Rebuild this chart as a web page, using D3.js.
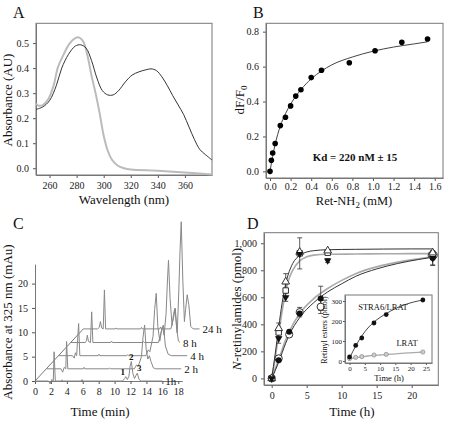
<!DOCTYPE html>
<html><head><meta charset="utf-8">
<script src="https://cdn.jsdelivr.net/npm/d3@7"></script>
<style>
body{margin:0;background:#fff}
text{font-family:"Liberation Serif","Times New Roman",serif}
</style>
</head><body>
<svg id="fig" width="449" height="421"></svg>
<script>
// ---------- Panel A data ----------
const aBlackWave = [250,255,260,265,269,274,279,283,287,291,295,299,303,307,311,316,321,326,331,335,339,343,347,351,355,359,363,367,371,375,380];
const aBlackAbs  = [0.235,0.245,0.27,0.33,0.40,0.455,0.488,0.493,0.48,0.43,0.36,0.31,0.293,0.293,0.31,0.345,0.372,0.385,0.393,0.397,0.39,0.365,0.33,0.29,0.253,0.215,0.165,0.115,0.075,0.055,0.033];
const aGrayWave  = [250,252,255,259,263,266,270,275,279,282,285,288,291,294,297,300,303,306,310,315,320,340,360,380];
const aGrayAbs   = [0.258,0.25,0.252,0.275,0.33,0.40,0.45,0.50,0.52,0.522,0.505,0.45,0.37,0.30,0.22,0.13,0.07,0.035,0.012,0.0,-0.005,-0.01,-0.017,-0.025];
const aXTicks = [260,280,300,320,340,360];
const aYTicks = [0.0,0.1,0.2,0.3,0.4,0.5];

// ---------- Panel B data ----------
const bConc = [0,0.013,0.026,0.05,0.1,0.15,0.2,0.25,0.3,0.4,0.5,0.77,1.02,1.28,1.53];
const bDF   = [0,0.063,0.105,0.16,0.262,0.31,0.375,0.431,0.467,0.537,0.579,0.622,0.691,0.739,0.758];
const bFitConc = [0,0.025,0.05,0.1,0.15,0.2,0.25,0.3,0.4,0.5,0.6,0.8,1.0,1.2,1.4,1.53];
const bFitDF   = [0,0.085,0.155,0.26,0.33,0.385,0.43,0.468,0.53,0.575,0.61,0.655,0.688,0.712,0.73,0.742];
const bXTicks = [0,0.2,0.4,0.6,0.8,1.0,1.2,1.4,1.6];
const bYTicks = [0,0.2,0.4,0.6,0.8];
const bNote = "Kd = 220 nM \u00b1 15";

// ---------- Panel C data ----------
const cLabels = ["1h","2 h","4 h","8 h","24 h"];
const cShiftMin = [0,1.47,2.93,4.52,6.07];
const cShiftAU  = [0,2.5,5.2,7.9,10.7];
const c1h = [[0,0],[1.7,0],[1.9,-0.6],[2.1,0.3],[2.3,0],[2.4,6.0],[2.55,0],[3.2,0],[3.4,0.2],[3.6,0],[5.8,0],[5.9,0.3],[6.0,0],[11.0,0],[11.25,0.5],[11.4,0.9],[11.6,0.3],[11.8,1.0],[11.95,3.0],[12.1,4.0],[12.3,1.5],[12.5,0.5],[12.7,1.2],[12.85,1.6],[13.05,0.4],[13.3,0],[16.0,0]];
const c2h = [[0,0],[1.8,0],[2.0,-0.7],[2.2,0.3],[2.4,0],[2.5,5.6],[2.65,0],[4.6,0],[4.7,0.3],[4.8,0],[7.8,0],[7.9,0.2],[8.0,0],[11.0,0],[11.3,0.8],[11.5,0.5],[11.9,2.5],[12.1,6.5],[12.3,9.0],[12.5,4.0],[12.7,2.0],[12.9,2.7],[13.1,1.5],[13.4,0.2],[13.7,0],[16.9,0]];
const c4h = [[0,0],[1.8,0],[2.0,-0.5],[2.15,0.6],[2.3,0],[2.55,6.6],[2.7,0],[5.0,0],[5.1,0.3],[5.2,0],[8.6,0],[8.7,0.2],[8.8,0],[11.0,0],[11.3,1.2],[11.5,0.8],[11.9,4.0],[12.1,9.5],[12.3,12.8],[12.5,6.0],[12.75,3.0],[13.0,5.5],[13.2,6.3],[13.45,2.0],[13.8,0.3],[14.2,0],[16.2,0]];
const c8h = [[0,0],[1.8,0],[1.95,0.4],[2.05,1.5],[2.2,0.2],[2.45,0],[2.6,6.3],[2.75,0],[5.0,0],[5.1,0.3],[5.2,0],[9.0,0],[9.1,0.2],[9.2,0],[11.0,0],[11.3,2.0],[11.5,3.2],[11.7,1.5],[11.95,6.0],[12.1,12.0],[12.25,16.9],[12.45,9.0],[12.7,3.5],[12.9,6.0],[13.05,7.0],[13.3,2.5],[13.5,0.3],[13.7,0]];
const c24h = [[0,0],[1.8,0],[2.0,0.3],[2.15,1.5],[2.3,0.2],[2.5,0],[2.65,8.0],[2.8,0],[4.0,0],[4.1,0.2],[4.2,0],[7.2,0],[7.3,0.3],[7.4,0],[9.6,0],[9.7,0.4],[9.8,0],[11.0,0],[11.3,2.0],[11.55,4.2],[11.8,-0.8],[12.0,8.0],[12.15,16.0],[12.3,22.0],[12.5,10.0],[12.7,1.5],[12.85,4.0],[13.05,7.0],[13.25,5.0],[13.5,0.5],[13.8,0],[14.6,0]];
const cTraces = [c1h,c2h,c4h,c8h,c24h];
const cPeakNames = ["1","2","3"];
const cPeakTimes = [11.4,12.1,12.85];
const cPeakHeights = [0.9,4.0,1.6];
const cXTicks = [0,2,4,6,8,10,12,14,16,18];
const cYTicks = [0,5,10,15,20];

// ---------- Panel D data ----------
const dTriT = [0,1,2,4,8,23],  dTri = [0,370,715,935,945,930],  dTriErr = [0,40,60,0,0,0];
const dSqT  = [0,1,2,4,8,23],  dSq  = [0,340,650,925,930,915],  dSqErr  = [0,30,50,115,0,0];
const dInvT = [0,1,2,4,8,23],  dInv = [0,295,600,920,872,890],  dInvErr = [0,35,30,0,15,50];
const dOcT  = [0,1,2.5,4,7,23],dOc  = [0,148,325,490,530,912],  dOcErr  = [0,0,15,35,50,0];
const dFcT  = [0,1,2.5,4,7,23],dFc  = [0,135,345,480,592,890],  dFcErr  = [0,0,0,0,90,55];
const dFastT = [0,0.5,1,1.5,2,2.5,3,4,5,6,8,12,16,20,23];
const dFastBlack = [0,180,380,560,700,790,850,910,935,945,952,955,957,958,958];
const dFastGray  = [0,150,330,500,640,740,800,870,900,912,918,920,922,923,923];
const dSlowT = [0,1,2,2.5,4,6,8,10,12,15,18,21,23];
const dSlowBlack = [0,120,260,320,450,560,640,700,755,810,850,880,897];
const dSlowGray  = [0,140,285,345,480,590,665,725,775,825,860,885,900];
const dXTicks = [0,5,10,15,20];
const dYTicks = [0,200,400,600,800,1000];
// inset
const insT = [0,2,4,8,12,24];
const insStra6 = [20,78,115,190,232,305];
const insLrat  = [12,18,22,30,33,45];
const insCurveT = [0,2,4,6,8,10,12,15,18,21,24];
const insStra6Curve = [15,75,125,165,195,218,237,262,281,295,305];
const insLratCurve  = [12,17,21,25,28,30,32,36,39,42,45];
const insXTicks = [0,5,10,15,20,25];
const insYTicks = [0,100,200,300];

// ---------- drawing ----------
const svg = d3.select("#fig");
const SERIF = "'Liberation Serif','Times New Roman',serif";
const AX = "#555", FR = "#777";

function styleAxis(g, fs){
  g.selectAll("path").attr("stroke", FR).attr("stroke-width",1);
  g.selectAll("line").attr("stroke", AX);
  g.selectAll("text").attr("font-size", fs||10).attr("fill","#222").attr("font-family",SERIF);
}
function frame(x0,y0,x1,y1,col){
  svg.append("rect").attr("x",x0).attr("y",y0).attr("width",x1-x0).attr("height",y1-y0)
    .attr("fill","none").attr("stroke",col||FR).attr("stroke-width",1);
}
function label(txt,x,y,fs,opts){
  const t = svg.append("text").attr("x",x).attr("y",y).attr("font-size",fs).attr("fill","#111")
    .attr("text-anchor",(opts&&opts.anchor)||"middle").text(txt);
  if(opts&&opts.rot) t.attr("transform",`rotate(-90,${x},${y})`);
  if(opts&&opts.bold) t.attr("font-weight","bold");
  return t;
}

// Panel letters
label("A",13,18,16,{anchor:"start"});
label("B",253,18,16,{anchor:"start"});
label("C",13,229,16,{anchor:"start"});
label("D",247,229,16,{anchor:"start"});

// ===== Panel A =====
{
  const x = d3.scaleLinear().domain([250,380]).range([36,212]);
  const y = d3.scaleLinear().domain([-0.027,0.579]).range([175,23.3]);
  svg.append("g").attr("transform","translate(0,175)")
    .call(d3.axisBottom(x).tickValues(aXTicks).tickSize(3).tickSizeOuter(0).tickPadding(4)).call(styleAxis);
  svg.append("g").attr("transform","translate(36,0)")
    .call(d3.axisLeft(y).tickValues(aYTicks).tickFormat(d3.format(".1f")).tickSize(3).tickSizeOuter(0).tickPadding(4)).call(styleAxis);
  frame(36,23.3,212,175);
  const line = d3.line().x(d=>x(d[0])).y(d=>y(d[1])).curve(d3.curveCatmullRom);
  svg.append("path").datum(aGrayWave.map((w,i)=>[w,aGrayAbs[i]])).attr("d",line)
    .attr("fill","none").attr("stroke","#bbb").attr("stroke-width",2);
  svg.append("path").datum(aBlackWave.map((w,i)=>[w,aBlackAbs[i]])).attr("d",line)
    .attr("fill","none").attr("stroke","#333").attr("stroke-width",1);
  label("Absorbance (AU)",12,100,13,{rot:true});
  label("Wavelength (nm)",124,204,13);
}

// ===== Panel B =====
{
  const x = d3.scaleLinear().domain([-0.039,1.68]).range([266,443]);
  const y = d3.scaleLinear().domain([-0.038,0.848]).range([178,23.3]);
  svg.append("g").attr("transform","translate(0,178)")
    .call(d3.axisBottom(x).tickValues(bXTicks).tickFormat(d3.format(".1f")).tickSize(3).tickSizeOuter(0).tickPadding(2)).call(styleAxis);
  svg.append("g").attr("transform","translate(266,0)")
    .call(d3.axisLeft(y).tickValues(bYTicks).tickFormat(d3.format(".1f")).tickSize(3).tickSizeOuter(0).tickPadding(4)).call(styleAxis);
  frame(266,23.3,443,178);
  const line = d3.line().x(d=>x(d[0])).y(d=>y(d[1])).curve(d3.curveMonotoneX);
  svg.append("path").datum(bFitConc.map((c,i)=>[c,bFitDF[i]])).attr("d",line)
    .attr("fill","none").attr("stroke","#444").attr("stroke-width",1);
  svg.selectAll(".bpt").data(bConc.map((c,i)=>[c,bDF[i]])).enter().append("circle")
    .attr("cx",d=>x(d[0])).attr("cy",d=>y(d[1])).attr("r",2.8).attr("fill","#000");
  label(bNote,355,161,11,{bold:true});
  const yl = svg.append("text").attr("transform","translate(244,100) rotate(-90)")
    .attr("text-anchor","middle").attr("font-size",13).attr("fill","#111");
  yl.append("tspan").text("dF/F");
  yl.append("tspan").attr("font-size",9).attr("dy",3).text("0");
  const xl = svg.append("text").attr("x",354).attr("y",205).attr("text-anchor","middle").attr("font-size",12.5).attr("fill","#111");
  xl.append("tspan").text("Ret-NH");
  xl.append("tspan").attr("font-size",9).attr("dy",3).text("2");
  xl.append("tspan").attr("dy",-3).text(" (mM)");
}

// ===== Panel C =====
{
  const x = d3.scaleLinear().domain([0,18.5]).range([35,35+18.5*7.96]);
  const y = d3.scaleLinear().domain([0,24]).range([381,381-24*4.87]);
  svg.append("g").attr("transform","translate(0,381)")
    .call(d3.axisBottom(x).tickValues(cXTicks).tickSize(3).tickSizeOuter(0).tickPadding(4)).call(styleAxis);
  svg.append("g").attr("transform","translate(35,0)")
    .call(d3.axisLeft(y).tickValues(cYTicks).tickSize(3).tickSizeOuter(0).tickPadding(4)).call(styleAxis);
  const last = cShiftMin.length-1;
  svg.append("line").attr("x1",x(0)).attr("y1",y(0)).attr("x2",x(cShiftMin[last])).attr("y2",y(cShiftAU[last]))
    .attr("stroke","#555").attr("stroke-width",0.8);
  cTraces.forEach((tr,k)=>{
    const line = d3.line().x(d=>x(d[0]+cShiftMin[k])).y(d=>y(d[1]+cShiftAU[k]));
    svg.append("path").datum(tr).attr("d",line).attr("fill","none").attr("stroke","#888").attr("stroke-width",1);
    const end = tr[tr.length-1];
    svg.append("text").attr("x",x(end[0]+cShiftMin[k])+3).attr("y",y(cShiftAU[k])+4)
      .attr("font-size",11).attr("fill","#111").text(cLabels[k]);
  });
  cPeakNames.forEach((n,i)=>{
    svg.append("text").attr("x",x(cPeakTimes[i])-(i==0?3:i==2?-2:0)).attr("y",y(cPeakHeights[i])-2)
      .attr("text-anchor","middle").attr("font-size",9).attr("font-weight","bold").attr("fill","#111").text(n);
  });
  label("Absorbance at 325 nm (mAu)",12,322,13,{rot:true});
  label("Time (min)",100,416,13);
}

// ===== Panel D =====
{
  const x = d3.scaleLinear().domain([-1.1,23.8]).range([264,438.3]);
  const y = d3.scaleLinear().domain([-49,1078]).range([385,232.7]);
  svg.append("g").attr("transform","translate(0,385)")
    .call(d3.axisBottom(x).tickValues(dXTicks).tickSize(3).tickSizeOuter(0).tickPadding(4)).call(styleAxis);
  svg.append("g").attr("transform","translate(264,0)")
    .call(d3.axisLeft(y).tickValues(dYTicks).tickSize(3).tickSizeOuter(0).tickPadding(4)).call(styleAxis);
  frame(264,232.7,438.3,385);
  const mk = (tt,vv)=>tt.map((t,i)=>[t,vv[i]]);
  const line = d3.line().x(d=>x(d[0])).y(d=>y(d[1])).curve(d3.curveMonotoneX);
  [[dFastT,dFastGray,"#aaa",1.6],[dSlowT,dSlowGray,"#aaa",1.6],[dFastT,dFastBlack,"#333",1],[dSlowT,dSlowBlack,"#333",1]]
    .forEach(([tt,vv,c,w])=>svg.append("path").datum(mk(tt,vv)).attr("d",line).attr("fill","none").attr("stroke",c).attr("stroke-width",w));
  // error bars
  const errSets = [[dTriT,dTri,dTriErr],[dSqT,dSq,dSqErr],[dInvT,dInv,dInvErr],[dOcT,dOc,dOcErr],[dFcT,dFc,dFcErr]];
  errSets.forEach(([tt,vv,ee])=>{
    tt.forEach((t,i)=>{ if(ee[i]>0){
      const cx=x(t), y1=y(vv[i]-ee[i]), y2=y(vv[i]+ee[i]);
      svg.append("line").attr("x1",cx).attr("x2",cx).attr("y1",y1).attr("y2",y2).attr("stroke","#333").attr("stroke-width",0.8);
      [y1,y2].forEach(yy=>svg.append("line").attr("x1",cx-2.5).attr("x2",cx+2.5).attr("y1",yy).attr("y2",yy).attr("stroke","#333").attr("stroke-width",0.8));
    }});
  });
  // markers
  const sym = (type,size)=>d3.symbol().type(type).size(size)();
  mk(dOcT,dOc).forEach((d,i)=>svg.append("circle").attr("cx",x(d[0])).attr("cy",y(d[1])).attr("r",i==5?4.5:3.6).attr("fill","#fff").attr("stroke","#333"));
  mk(dFcT,dFc).forEach(d=>svg.append("circle").attr("cx",x(d[0])).attr("cy",y(d[1])).attr("r",3).attr("fill","#111"));
  mk(dSqT,dSq).forEach(d=>svg.append("path").attr("d",sym(d3.symbolSquare,30)).attr("transform",`translate(${x(d[0])},${y(d[1])})`).attr("fill","#fff").attr("stroke","#333"));
  mk(dTriT,dTri).forEach(d=>svg.append("path").attr("d",sym(d3.symbolTriangle,26)).attr("transform",`translate(${x(d[0])},${y(d[1])})`).attr("fill","#fff").attr("stroke","#333"));
  mk(dInvT,dInv).forEach(d=>svg.append("path").attr("d",sym(d3.symbolTriangle,24)).attr("transform",`translate(${x(d[0])},${y(d[1])}) rotate(180)`).attr("fill","#111"));
  const yl = svg.append("text").attr("transform","translate(241,309) rotate(-90)")
    .attr("text-anchor","middle").attr("font-size",13).attr("fill","#111");
  yl.append("tspan").attr("font-style","italic").text("N");
  yl.append("tspan").text("-retinylamides (pmol)");
  label("Time (h)",352,416,13);

  // inset
  const IL=345, IR=432, IT=295, IB=363;
  const ix = d3.scaleLinear().domain([-1.5,27]).range([IL,IR]);
  const iy = d3.scaleLinear().domain([-10,330]).range([IB,IT]);
  svg.append("rect").attr("x",IL).attr("y",IT).attr("width",IR-IL).attr("height",IB-IT).attr("fill","#fff").attr("stroke","none");
  svg.append("g").attr("transform",`translate(0,${IB})`)
    .call(d3.axisBottom(ix).tickValues(insXTicks).tickSize(2).tickSizeOuter(0).tickPadding(1)).call(g=>styleAxis(g,7));
  svg.append("g").attr("transform",`translate(${IL},0)`)
    .call(d3.axisLeft(iy).tickValues(insYTicks).tickSize(2).tickSizeOuter(0).tickPadding(1)).call(g=>styleAxis(g,7));
  frame(IL,IT,IR,IB);
  const iline = d3.line().x(d=>ix(d[0])).y(d=>iy(d[1])).curve(d3.curveMonotoneX);
  svg.append("path").datum(mk(insCurveT,insLratCurve)).attr("d",iline).attr("fill","none").attr("stroke","#aaa").attr("stroke-width",1.3);
  svg.append("path").datum(mk(insCurveT,insStra6Curve)).attr("d",iline).attr("fill","none").attr("stroke","#333").attr("stroke-width",0.9);
  mk(insT,insLrat).forEach(d=>svg.append("circle").attr("cx",ix(d[0])).attr("cy",iy(d[1])).attr("r",2.1).attr("fill","#ccc").attr("stroke","#888").attr("stroke-width",0.7));
  mk(insT,insStra6).forEach(d=>svg.append("circle").attr("cx",ix(d[0])).attr("cy",iy(d[1])).attr("r",2.4).attr("fill","#111"));
  label("STRA6/LRAT",383,310,8.5);
  label("LRAT",407,346,8.5);
  label("Retinyl esters (pmol)",327,330,8,{rot:true});
  label("Time (h)",389,381,8.5);
}
</script>
</body></html>
